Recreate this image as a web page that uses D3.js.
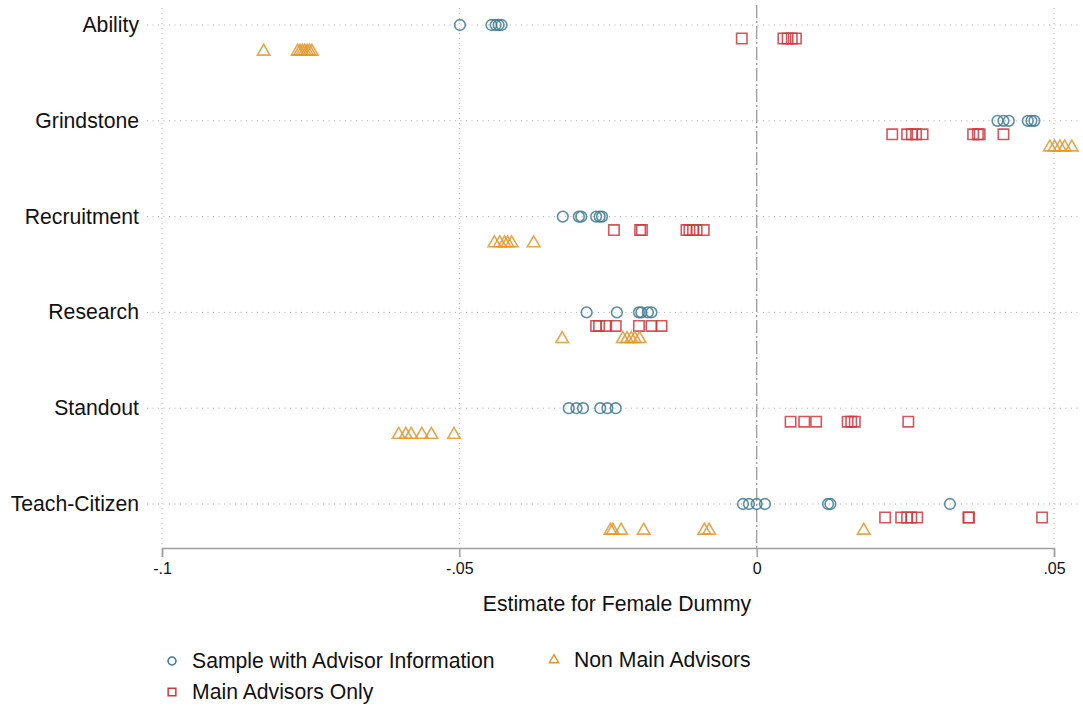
<!DOCTYPE html>
<html>
<head>
<meta charset="utf-8">
<script src="https://cdn.jsdelivr.net/npm/d3@7"></script>
<style>
  body { margin: 0; background: #fff; }
  text { font-family: "Liberation Sans", Arial, Helvetica, sans-serif; fill: #111; }
</style>
</head>
<body>
<div id="chart"></div>
<script>
// categories, top to bottom
var categories = ["Ability", "Grindstone", "Recruitment", "Research", "Standout", "Teach-Citizen"];

// Sample with Advisor Information (circles)
var sampleVals = [
  [-0.0499, -0.0446, -0.0439, -0.0434, -0.0429],
  [0.0405, 0.0415, 0.0424, 0.0456, 0.0462, 0.0467],
  [-0.0326, -0.0299, -0.0295, -0.0270, -0.0264, -0.0260],
  [-0.0286, -0.0235, -0.0198, -0.0194, -0.0183, -0.0177],
  [-0.0316, -0.0303, -0.0292, -0.0263, -0.0251, -0.0237],
  [-0.0023, -0.0013, 0.0000, 0.0014, 0.0120, 0.0124, 0.0325]
];

// Main Advisors Only (squares)
var mainVals = [
  [-0.0025, 0.0045, 0.0052, 0.0059, 0.0066],
  [0.0228, 0.0253, 0.0261, 0.0268, 0.0279, 0.0364, 0.0372, 0.0375, 0.0415],
  [-0.0240, -0.0196, -0.0193, -0.0118, -0.0113, -0.0107, -0.0101, -0.0089],
  [-0.0270, -0.0265, -0.0253, -0.0237, -0.0198, -0.0177, -0.0160],
  [0.0057, 0.0080, 0.0100, 0.0153, 0.0159, 0.0165, 0.0255],
  [0.0216, 0.0243, 0.0253, 0.0260, 0.0270, 0.0356, 0.0357, 0.0480]
];

// Non Main Advisors (triangles)
var nonMainVals = [
  [-0.0829, -0.0772, -0.0768, -0.0764, -0.0760, -0.0756, -0.0752, -0.0748],
  [0.0493, 0.0501, 0.0510, 0.0518, 0.0530],
  [-0.0441, -0.0432, -0.0424, -0.0419, -0.0412, -0.0375],
  [-0.0327, -0.0225, -0.0218, -0.0211, -0.0205, -0.0197],
  [-0.0602, -0.0590, -0.0581, -0.0563, -0.0547, -0.0509],
  [-0.0246, -0.0242, -0.0228, -0.0190, -0.0088, -0.0080, 0.0180]
];

var xTicks = [-0.1, -0.05, 0, 0.05];

var width = 1083, height = 705;
var axisY = 548;
var fontSize = "21.2px";

var series = [
  { name: "Sample with Advisor Information", vals: sampleVals, shape: d3.symbolCircle, size: 90, color: "#3f7c92", off: 0 },
  { name: "Main Advisors Only", vals: mainVals, shape: d3.symbolSquare, size: 108, color: "#cc3a3f", off: 0.141 },
  { name: "Non Main Advisors", vals: nonMainVals, shape: d3.symbolTriangle, size: 68, color: "#e3982b", off: 0.271 }
];

var svg = d3.select("#chart").append("svg")
  .attr("width", width)
  .attr("height", height);

var x = d3.scaleLinear().domain([-0.1, 0.05]).range([162, 1054]);
var y = d3.scaleLinear().domain([0, categories.length - 1]).range([25, 504]);

// vertical dotted grid
svg.append("g").selectAll("line")
  .data(xTicks.filter(function(d){ return d !== 0; }))
  .enter().append("line")
    .attr("x1", function(d){ return x(d); })
    .attr("x2", function(d){ return x(d); })
    .attr("y1", 8).attr("y2", axisY)
    .style("stroke", "#b8b8b8").style("stroke-width", 1)
    .style("stroke-dasharray", "1,4");

// horizontal dotted grid
svg.append("g").selectAll("line")
  .data(categories)
  .enter().append("line")
    .attr("x1", 147).attr("x2", 1080)
    .attr("y1", function(d, i){ return y(i); })
    .attr("y2", function(d, i){ return y(i); })
    .style("stroke", "#b0b0b0").style("stroke-width", 1)
    .style("stroke-dasharray", "1,4.5");

// zero reference line
svg.append("line")
  .attr("x1", x(0)).attr("x2", x(0))
  .attr("y1", 5).attr("y2", axisY)
  .style("stroke", "#a0a0a0").style("stroke-width", 1.4)
  .style("stroke-dasharray", "13,3,2,3");

// category labels
svg.append("g").selectAll("text")
  .data(categories)
  .enter().append("text")
    .attr("x", 139)
    .attr("y", function(d, i){ return y(i) + 7; })
    .attr("text-anchor", "end")
    .style("font-size", fontSize)
    .text(function(d){ return d; });

// x axis, Stata style labels (-.1, -.05, 0, .05)
var fmt = function(d){
  if (d === 0) return "0";
  return String(d).replace("0.", ".");
};
var xAxis = svg.append("g")
  .attr("transform", "translate(0," + axisY + ")")
  .call(d3.axisBottom(x).tickValues(xTicks).tickFormat(fmt).tickSize(9).tickPadding(6));
xAxis.select(".domain").style("stroke", "#a0a0a0").style("stroke-width", 1.5);
xAxis.selectAll(".tick line").style("stroke", "#a0a0a0").style("stroke-width", 1.5);
xAxis.selectAll(".tick text")
  .style("font-size", "16px")
  .style("font-family", "Liberation Sans, Arial, sans-serif")
  .style("fill", "#111");

svg.append("text")
  .attr("x", 617)
  .attr("y", 611)
  .attr("text-anchor", "middle")
  .style("font-size", fontSize)
  .text("Estimate for Female Dummy");

// markers
series.forEach(function(s){
  var pts = [];
  s.vals.forEach(function(row, i){
    row.forEach(function(v){ pts.push({ v: v, i: i }); });
  });
  var sym = d3.symbol().type(s.shape).size(s.size);
  svg.append("g").selectAll("path")
    .data(pts)
    .enter().append("path")
      .attr("d", sym)
      .attr("transform", function(d){
        var yy = y(d.i + s.off);
        if (s.shape === d3.symbolTriangle) yy += 0.5;
        return "translate(" + x(d.v) + "," + yy + ")";
      })
      .style("fill", "none")
      .style("stroke", s.color)
      .style("stroke-width", 1.6)
      .style("stroke-opacity", 0.85);
});

// legend
var legendPos = [
  { s: series[0], lx: 172, ly: 661 },
  { s: series[2], lx: 554, ly: 660 },
  { s: series[1], lx: 172, ly: 692 }
];
var legend = svg.append("g").selectAll("g")
  .data(legendPos)
  .enter().append("g")
    .attr("transform", function(d){ return "translate(" + d.lx + "," + d.ly + ")"; });
legend.append("path")
  .attr("d", function(d){ return d3.symbol().type(d.s.shape).size(d.s.size * 0.55)(); })
  .style("fill", "none")
  .style("stroke", function(d){ return d.s.color; })
  .style("stroke-width", 1.5);
legend.append("text")
  .attr("x", 20)
  .attr("y", 7)
  .style("font-size", fontSize)
  .text(function(d){ return d.s.name; });
</script>
</body>
</html>
